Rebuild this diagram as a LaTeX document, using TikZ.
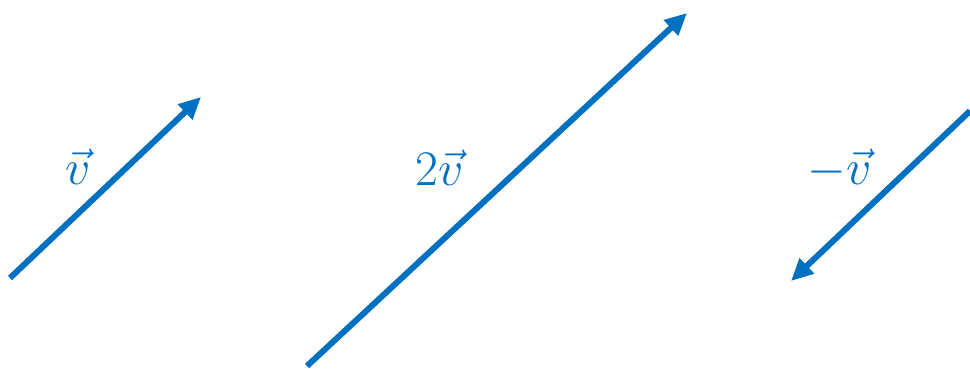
\documentclass[tikz,border=0pt]{standalone}
\usepackage{xcolor}
\usepackage{tikz}
\usetikzlibrary{arrows.meta,positioning}
\usepackage{amsmath}
\definecolor{vecblue}{HTML}{0070C0}

\begin{document}
\begin{tikzpicture}[
    x=0.5pt, y=-0.5pt,
    >={Triangle[length=11pt,width=10pt]},
    vecarrow/.style={->, line width=3pt, color=vecblue},
    veclbl/.style={text=vecblue, font=\fontsize{26}{30}\selectfont, inner sep=0pt}
]
\useasboundingbox (0,0) rectangle (970,369);
% v
\coordinate (V0) at (10,278);
\coordinate (V1) at (201,97);
\draw[vecarrow] (V0) -- (V1);
\node[veclbl] (Lv) at (78,167) {$\vec{v}$};
% 2v
\coordinate (W0) at (307,366);
\coordinate (W1) at (687,13);
\draw[vecarrow] (W0) -- (W1);
\node[veclbl] (Lw) at (440,168) {$2\vec{v}$};
% -v
\coordinate (N0) at (970,111);
\coordinate (N1) at (791,281);
\draw[vecarrow] (N0) -- (N1);
\node[veclbl] (Ln) at (840,169) {$-\vec{v}$};
\end{tikzpicture}
\end{document}
